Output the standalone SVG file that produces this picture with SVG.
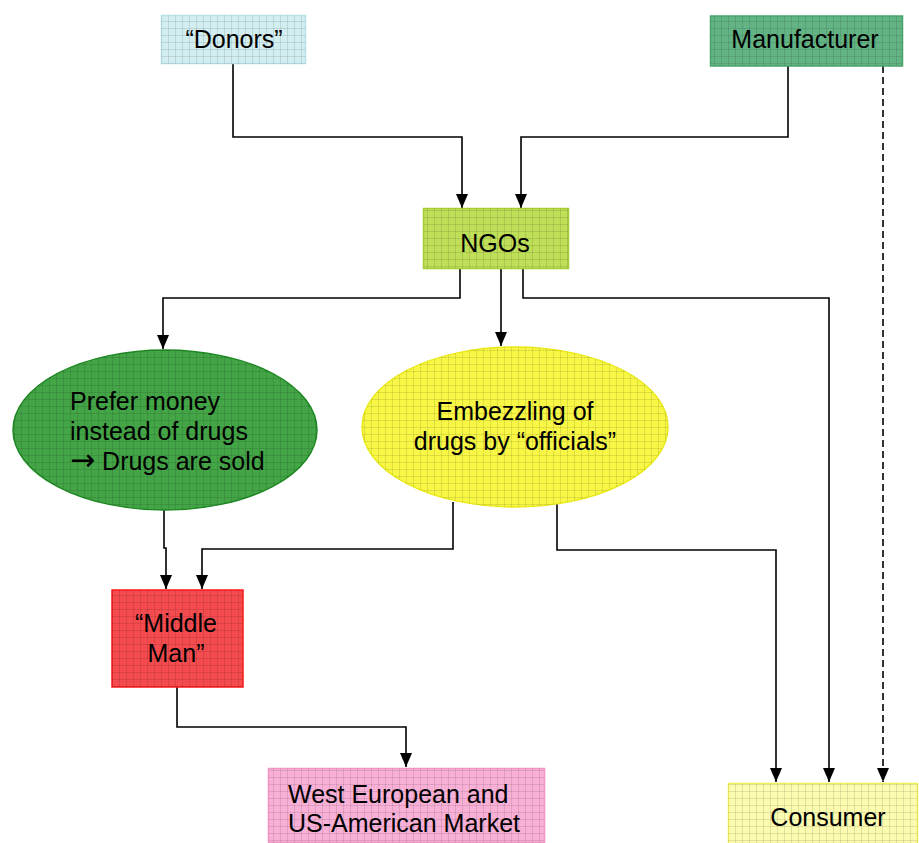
<svg xmlns="http://www.w3.org/2000/svg" width="919" height="843" viewBox="0 0 919 843">
<style>
.t{font-family:"Liberation Sans",Arial,sans-serif;font-size:25px;fill:#000}
.c{text-anchor:middle}
.ln{fill:none;stroke:#000;stroke-width:1.6}
.grid{fill:url(#grid)}
.arw{font-family:"DejaVu Sans",sans-serif;font-size:30px}
</style>
<defs>
<marker id="ahd" viewBox="0 0 14 12" refX="14" refY="6" markerWidth="14" markerHeight="12" markerUnits="userSpaceOnUse" orient="auto">
<path d="M0,0 L14,6 L0,12 z" fill="#000"/>
</marker>
<pattern id="grid" width="7" height="7" patternUnits="userSpaceOnUse">
<path d="M0,0.5 H7 M0.5,0 V7" stroke="#000" stroke-opacity="0.1" stroke-width="1"/>
</pattern>
</defs>

<g id="connectors">
<path class="ln" d="M233,64 V137 H462 V208" marker-end="url(#ahd)"/>
<path class="ln" d="M788,66 V137 H521 V208" marker-end="url(#ahd)"/>
<path class="ln" d="M883,66 V782" stroke-dasharray="7,4" marker-end="url(#ahd)"/>
<path class="ln" d="M460,269 V298 H163 V349" marker-end="url(#ahd)"/>
<path class="ln" d="M501,269 V346" marker-end="url(#ahd)"/>
<path class="ln" d="M523,269 V298 H829 V782" marker-end="url(#ahd)"/>
<path class="ln" d="M164,510 V548 H166 V589" marker-end="url(#ahd)"/>
<path class="ln" d="M453,502 V549 H202 V589" marker-end="url(#ahd)"/>
<path class="ln" d="M557,502 V550 H776 V782" marker-end="url(#ahd)"/>
<path class="ln" d="M177,687 V727 H406 V767" marker-end="url(#ahd)"/>
</g>

<g id="donors">
<rect x="161.5" y="15.5" width="144" height="48" fill="#d3eef1" stroke="#b9e1e7" stroke-width="1.5"/>
<rect x="161.5" y="15.5" width="144" height="48" class="grid"/>
<text class="t c" x="234" y="48">“Donors”</text>
</g>

<g id="manufacturer">
<rect x="710.5" y="16" width="192" height="50" fill="#63b485" stroke="#48a46c" stroke-width="1.5"/>
<rect x="710.5" y="16" width="192" height="50" class="grid"/>
<text class="t c" x="805" y="48">Manufacturer</text>
</g>

<g id="ngos">
<rect x="423.5" y="208.5" width="145" height="60" fill="#c0df58" stroke="#a6cf35" stroke-width="1.5"/>
<rect x="423.5" y="208.5" width="145" height="60" class="grid"/>
<text class="t c" x="495" y="252">NGOs</text>
</g>

<g id="prefer-money">
<ellipse cx="165" cy="430" rx="152" ry="80" fill="#44a547" stroke="#1f8a24" stroke-width="1.5"/>
<ellipse cx="165" cy="430" rx="152" ry="80" class="grid"/>
<text class="t" x="70" y="410">Prefer money</text>
<text class="t" x="70" y="440">instead of drugs</text>
<text class="t" x="70" y="470"><tspan class="arw">→</tspan> Drugs are sold</text>
</g>

<g id="embezzling">
<ellipse cx="515" cy="427" rx="153" ry="80" fill="#f8f745" stroke="#eaea1a" stroke-width="1.5"/>
<ellipse cx="515" cy="427" rx="153" ry="80" class="grid"/>
<text class="t c" x="515" y="420">Embezzling of</text>
<text class="t c" x="515" y="450">drugs by “officials”</text>
</g>

<g id="middle-man">
<rect x="112" y="590" width="131" height="97" fill="#f44b4e" stroke="#ff1a1a" stroke-width="1.5"/>
<rect x="112" y="590" width="131" height="97" class="grid"/>
<text class="t c" x="176" y="632">“Middle</text>
<text class="t c" x="176" y="662">Man”</text>
</g>

<g id="west-market">
<rect x="268.5" y="768.5" width="276" height="74" fill="#f9b0d6" stroke="#f396c4" stroke-width="1.5"/>
<rect x="268.5" y="768.5" width="276" height="74" class="grid"/>
<text class="t" x="288" y="803">West European and</text>
<text class="t" x="288" y="832">US-American Market</text>
</g>

<g id="consumer">
<rect x="728.5" y="783.5" width="189" height="60" fill="#fcfcb0" stroke="#f1f15a" stroke-width="1.5"/>
<rect x="728.5" y="783.5" width="189" height="60" class="grid"/>
<text class="t c" x="828" y="826">Consumer</text>
</g>
</svg>
